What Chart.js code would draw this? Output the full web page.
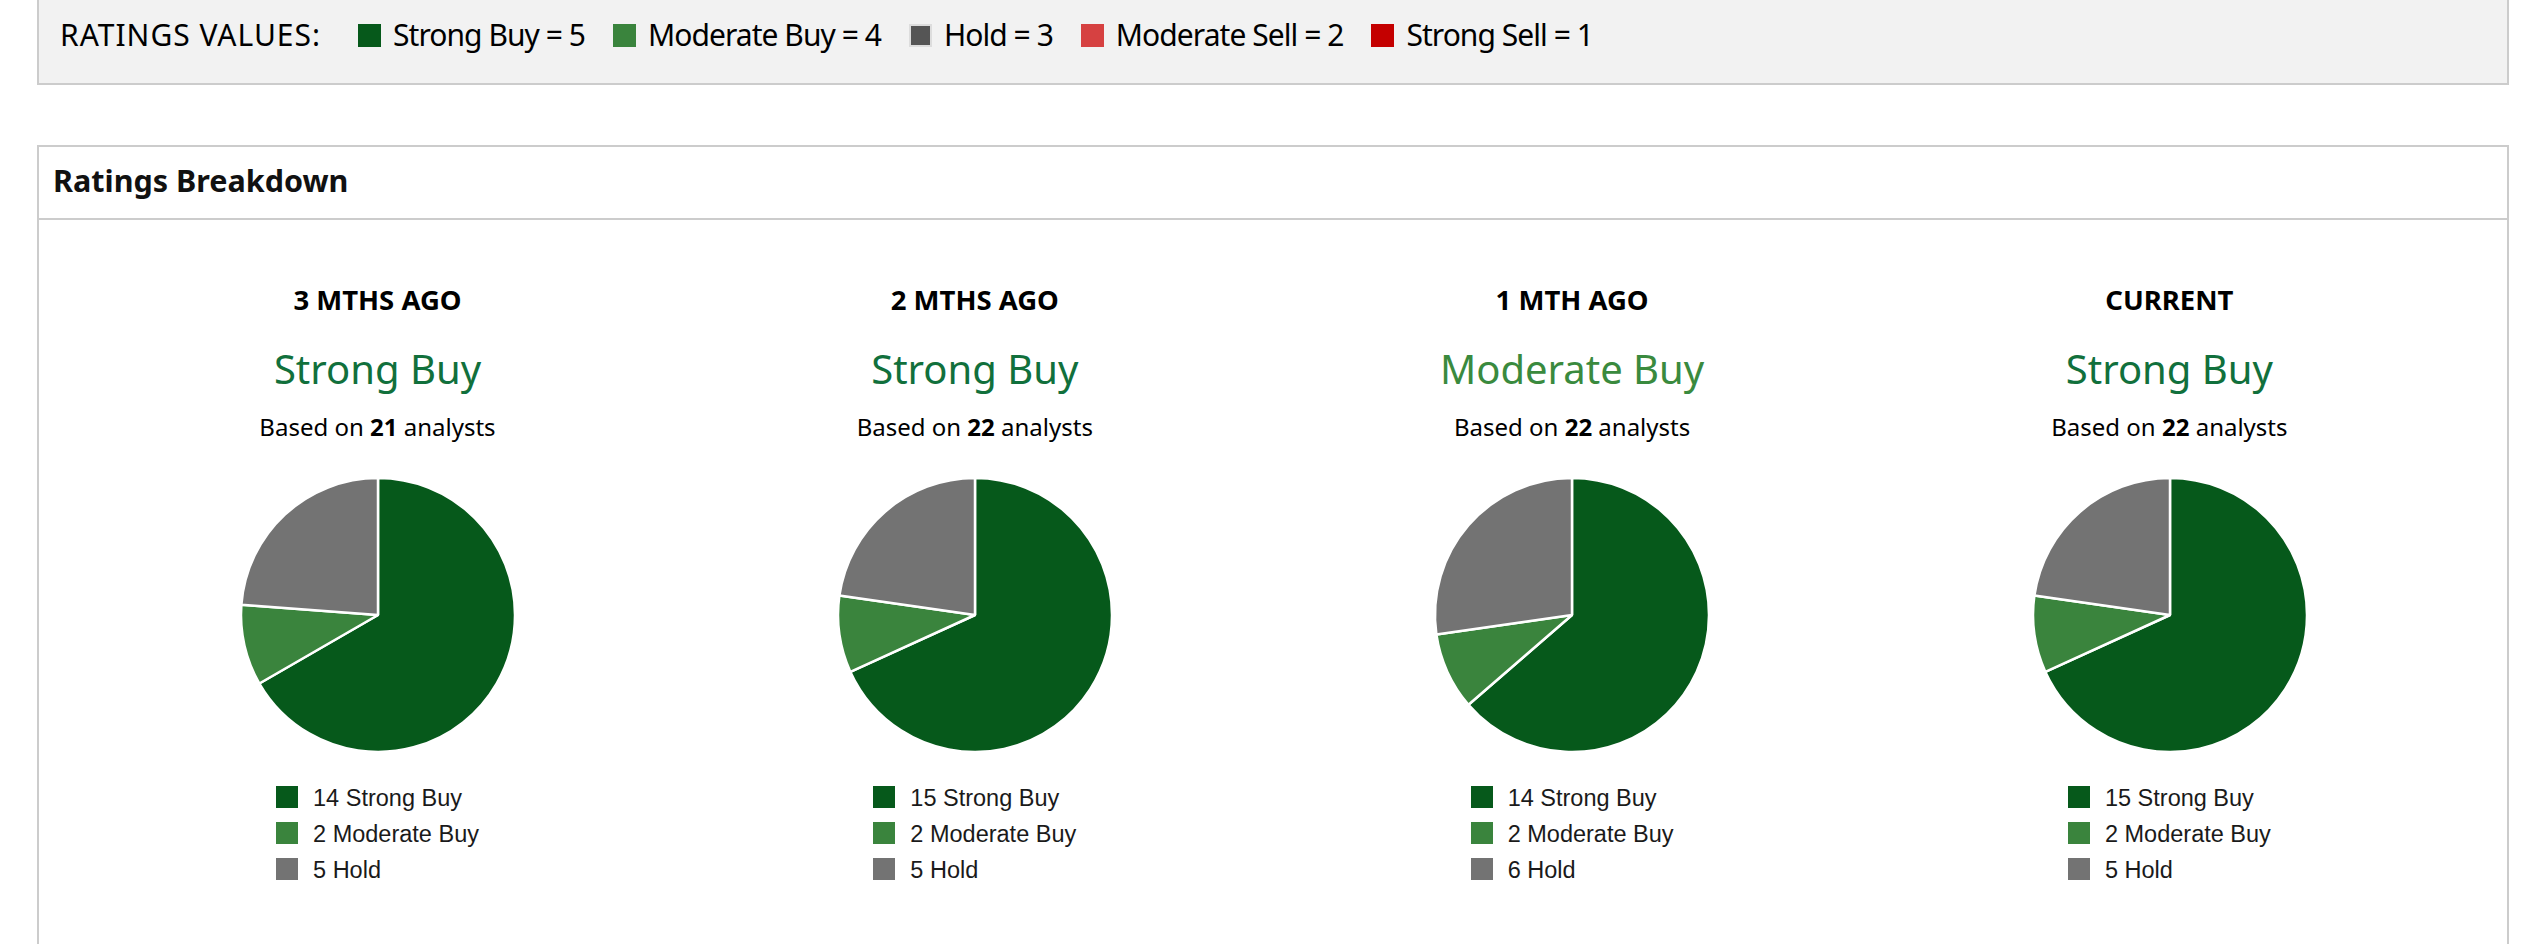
<!DOCTYPE html>
<html>
<head>
<meta charset="utf-8">
<script src="https://cdn.jsdelivr.net/npm/chart.js@4"></script>
<style>
  body { margin: 0; width: 2522px; height: 944px; overflow: hidden; background: #fff; font-family: "Noto Sans", "Open Sans", sans-serif; color: #000; position: relative; }
  .values-box { position: absolute; left: 37px; top: -12px; width: 2472px; height: 97px; box-sizing: border-box; border: 2px solid #cccccc; background: #f2f2f2; }
  .values-row { position: absolute; left: 60px; top: 20px; display: flex; align-items: flex-start; font-size: 30px; line-height: 30px; white-space: nowrap; }
  .values-row .lead { margin-right: 37px; letter-spacing: 1px; }
  .values-row .item { display: flex; align-items: flex-start; margin-right: 28px; letter-spacing: -0.95px; }
  .values-row .sw { width: 23px; height: 23px; margin: 4px 12px 0 0; box-sizing: border-box; }
  .breakdown { position: absolute; left: 37px; top: 145px; width: 2472px; height: 900px; box-sizing: border-box; border: 2px solid #cccccc; }
  .breakdown .head { height: 71px; border-bottom: 2px solid #cccccc; }
  .head-title { position: absolute; left: 53px; top: 165px; font-weight: bold; font-size: 30.5px; line-height: 30.5px; color: #111; }
  .col { position: absolute; width: 597px; text-align: center; }
  .col .period { position: absolute; left: 0; right: 0; top: 285.6px; font-weight: bold; font-size: 27.5px; line-height: 27.5px; }
  .col .verdict { position: absolute; left: 0; right: 0; top: 349px; font-size: 40px; line-height: 40px; }
  .col .based { position: absolute; left: 0; right: 0; top: 415px; font-size: 24px; line-height: 24px; }
  .col canvas { position: absolute; top: 465px; }
  .col .legend { position: absolute; top: 786px; left: 0; right: 0; display: flex; justify-content: center; }
  .legend .rows { text-align: left; font-family: "Liberation Sans", Arial, sans-serif; font-size: 23.5px; color: #1a1a1a; }
  .legend .row { display: flex; height: 36px; }
  .legend .sq { width: 22px; height: 22px; margin-right: 15px; }
  .legend .txt { line-height: 22px; padding-top: 1px; }
</style>
</head>
<body>
<div class="values-box"></div>
<div class="values-row" id="valuesRow"><span class="lead">RATINGS VALUES:</span></div>
<div class="breakdown"><div class="head"></div></div>
<div class="head-title">Ratings Breakdown</div>
<div id="cols"></div>
<script>
const periods = ['3 MTHS AGO', '2 MTHS AGO', '1 MTH AGO', 'CURRENT'];
const consensus = ['Strong Buy', 'Strong Buy', 'Moderate Buy', 'Strong Buy'];
const ratingLabels = ['Strong Buy', 'Moderate Buy', 'Hold'];
const strongBuy = [14, 15, 14, 15];
const moderateBuy = [2, 2, 2, 2];
const hold = [5, 5, 6, 5];

// rating scale shown in the top box
const scaleNames = ['Strong Buy', 'Moderate Buy', 'Hold', 'Moderate Sell', 'Strong Sell'];
const scaleValues = [5, 4, 3, 2, 1];

const scaleColors = ['#06591b', '#3a843d', '#555555', '#d64141', '#c40000'];
const pieColors = ['#06591b', '#3a843d', '#737373'];
const verdictColors = { 'Strong Buy': '#11703c', 'Moderate Buy': '#3a8a3e' };

const valuesRow = document.getElementById('valuesRow');
scaleNames.forEach((name, i) => {
  const item = document.createElement('span');
  item.className = 'item';
  const sw = document.createElement('span');
  sw.className = 'sw';
  sw.style.background = scaleColors[i];
  if (name === 'Hold') sw.style.border = '2px solid #dddddd';
  item.appendChild(sw);
  item.appendChild(document.createTextNode(name + ' = ' + scaleValues[i]));
  valuesRow.appendChild(item);
});

const cols = document.getElementById('cols');
const colLeft = 79;
const colWidth = 597.3;

periods.forEach((period, i) => {
  const values = [strongBuy[i], moderateBuy[i], hold[i]];
  const total = values.reduce((a, b) => a + b, 0);

  const col = document.createElement('div');
  col.className = 'col';
  col.style.left = (colLeft + i * colWidth) + 'px';
  col.innerHTML =
    '<div class="period">' + period + '</div>' +
    '<div class="verdict" style="color:' + verdictColors[consensus[i]] + '">' + consensus[i] + '</div>' +
    '<div class="based">Based on <b>' + total + '</b> analysts</div>';

  const canvas = document.createElement('canvas');
  canvas.width = 300;
  canvas.height = 300;
  canvas.style.left = (colWidth / 2 - 150) + 'px';
  col.appendChild(canvas);

  const legend = document.createElement('div');
  legend.className = 'legend';
  const rows = document.createElement('div');
  rows.className = 'rows';
  ratingLabels.forEach((label, j) => {
    const row = document.createElement('div');
    row.className = 'row';
    row.innerHTML = '<span class="sq" style="background:' + pieColors[j] + '"></span>' +
      '<span class="txt">' + values[j] + ' ' + label + '</span>';
    rows.appendChild(row);
  });
  legend.appendChild(rows);
  col.appendChild(legend);
  cols.appendChild(col);

  new Chart(canvas, {
    type: 'pie',
    data: {
      labels: ratingLabels,
      datasets: [{
        data: values,
        backgroundColor: pieColors,
        borderColor: '#ffffff',
        borderWidth: 2.5,
        radius: 137,
      }],
    },
    options: {
      responsive: false,
      animation: false,
      events: [],
      plugins: {
        legend: { display: false },
        tooltip: { enabled: false },
      },
    },
  });
});
</script>
</body>
</html>
